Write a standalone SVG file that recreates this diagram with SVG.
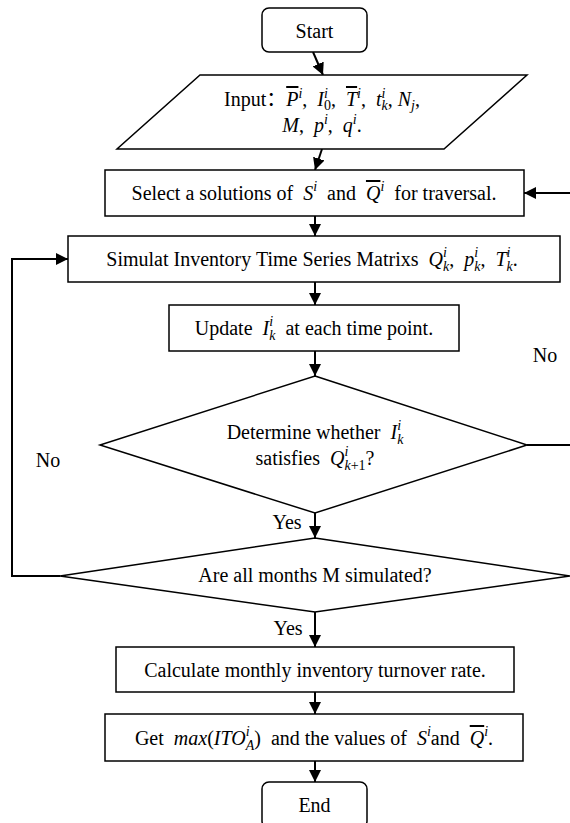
<svg xmlns="http://www.w3.org/2000/svg" width="570" height="823" viewBox="0 0 570 823">
  <defs>
    <style>
      .box { fill: #fff; stroke: #000; stroke-width: 1.5; }
      .ln { fill: none; stroke: #000; stroke-width: 2; }
      text { font-family: "Liberation Serif", "DejaVu Serif", serif; font-size: 20px; fill: #000; white-space: pre; }
      .cjk { font-family: "Noto Sans CJK SC", sans-serif; }
      .m { font-style: italic; }
      .s { font-size: 14px; }
      .ov { text-decoration: overline; }
    </style>
    <marker id="ah" viewBox="0 0 12 12" refX="12" refY="6" markerWidth="12" markerHeight="12" markerUnits="userSpaceOnUse" orient="auto">
      <path d="M0,0 L12,6 L0,12 z" fill="#000"/>
    </marker>
  </defs>

  <rect width="570" height="823" fill="#fff"/>

  <!-- connectors -->
  <g id="connectors">
    <line class="ln" x1="313" y1="52" x2="323" y2="75" marker-end="url(#ah)"/>
    <line class="ln" x1="322" y1="149" x2="315" y2="170" marker-end="url(#ah)"/>
    <line class="ln" x1="315" y1="216" x2="315" y2="236" marker-end="url(#ah)"/>
    <line class="ln" x1="315" y1="282" x2="315" y2="305" marker-end="url(#ah)"/>
    <line class="ln" x1="315" y1="351" x2="315" y2="376" marker-end="url(#ah)"/>
    <line class="ln" x1="315" y1="513" x2="315" y2="538" marker-end="url(#ah)"/>
    <line class="ln" x1="315" y1="612" x2="315" y2="647" marker-end="url(#ah)"/>
    <line class="ln" x1="315" y1="692" x2="315" y2="714" marker-end="url(#ah)"/>
    <line class="ln" x1="315" y1="761" x2="315" y2="782" marker-end="url(#ah)"/>
    <!-- "No" from the month check back to the simulation step -->
    <path class="ln" d="M60,576 H12 V259 H68" marker-end="url(#ah)"/>
    <!-- "No" from the inventory check back to solution selection -->
    <path class="ln" d="M527,445 H572 V193 H524" marker-end="url(#ah)"/>
    <text x="287" y="529" text-anchor="middle">Yes</text>
    <text x="288" y="635" text-anchor="middle">Yes</text>
    <text x="48" y="467" text-anchor="middle">No</text>
    <text x="545" y="362" text-anchor="middle">No</text>
  </g>

  <g id="start">
    <rect class="box" x="262" y="8" width="105" height="44" rx="7"/>
    <text x="314.5" y="38" text-anchor="middle">Start</text>
  </g>

  <g id="input">
    <polygon class="box" points="200,75 527,75 444,149 117,149"/>
    <text x="322" y="106" text-anchor="middle">Input<tspan class="cjk">：</tspan><tspan class="m ov">P</tspan><tspan class="m s" dy="-8">i</tspan><tspan dy="8">,  </tspan><tspan class="m">I</tspan><tspan class="m s" dy="-8">i</tspan><tspan class="s" dx="-3.9" dy="12">0</tspan><tspan dy="-4">,  </tspan><tspan class="m ov">T</tspan><tspan class="m s" dy="-8">i</tspan><tspan dy="8">,  </tspan><tspan class="m">t</tspan><tspan class="m s" dy="-8">i</tspan><tspan class="m s" dx="-3.9" dy="12">k</tspan><tspan dy="-4">, </tspan><tspan class="m">N</tspan><tspan class="m s" dy="4">j</tspan><tspan dy="-4">,</tspan></text>
    <text x="322" y="132" text-anchor="middle"><tspan class="m">M</tspan>,  <tspan class="m">p</tspan><tspan class="m s" dy="-8">i</tspan><tspan dy="8">,  </tspan><tspan class="m">q</tspan><tspan class="m s" dy="-8">i</tspan><tspan dy="8">.</tspan></text>
  </g>

  <g id="select">
    <rect class="box" x="105" y="170" width="419" height="46"/>
    <text x="314" y="200" text-anchor="middle">Select a solutions of  <tspan class="m">S</tspan><tspan class="m s" dy="-9">i</tspan><tspan dy="9">  and  </tspan><tspan class="m ov">Q</tspan><tspan class="m s" dy="-9">i</tspan><tspan dy="9">  for traversal.</tspan></text>
  </g>

  <g id="simulate">
    <rect class="box" x="68" y="236" width="492" height="46"/>
    <text x="312" y="266" text-anchor="middle">Simulat Inventory Time Series Matrixs  <tspan class="m">Q</tspan><tspan class="m s" dy="-9">i</tspan><tspan class="m s" dx="-3.9" dy="14">k</tspan><tspan dy="-5">,  </tspan><tspan class="m">p</tspan><tspan class="m s" dy="-9">i</tspan><tspan class="m s" dx="-3.9" dy="14">k</tspan><tspan dy="-5">,  </tspan><tspan class="m">T</tspan><tspan class="m s" dy="-9">i</tspan><tspan class="m s" dx="-3.9" dy="14">k</tspan><tspan dy="-5">.</tspan></text>
  </g>

  <g id="update">
    <rect class="box" x="169" y="305" width="290" height="46"/>
    <text x="314" y="335" text-anchor="middle">Update  <tspan class="m">I</tspan><tspan class="m s" dy="-9">i</tspan><tspan class="m s" dx="-3.9" dy="14">k</tspan><tspan dy="-5">  at each time point.</tspan></text>
  </g>

  <g id="check-inventory">
    <polygon class="box" points="315,376 527,445 315,513 100,445"/>
    <text x="315" y="439" text-anchor="middle">Determine whether  <tspan class="m">I</tspan><tspan class="m s" dy="-9">i</tspan><tspan class="m s" dx="-3.9" dy="14">k</tspan></text>
    <text x="315" y="465" text-anchor="middle">satisfies  <tspan class="m">Q</tspan><tspan class="m s" dy="-9">i</tspan><tspan class="s" dx="-3.9" dy="14"><tspan class="m">k</tspan>+1</tspan><tspan dy="-5">?</tspan></text>
  </g>

  <g id="check-months">
    <polygon class="box" points="315,538 570,576 315,612 60,576"/>
    <text x="315" y="582" text-anchor="middle">Are all months M simulated?</text>
  </g>

  <g id="calculate">
    <rect class="box" x="116" y="647" width="398" height="45"/>
    <text x="315" y="677" text-anchor="middle">Calculate monthly inventory turnover rate.</text>
  </g>

  <g id="result">
    <rect class="box" x="105" y="714" width="418" height="47"/>
    <text x="314" y="745" text-anchor="middle">Get  <tspan class="m">max</tspan>(<tspan class="m">ITO</tspan><tspan class="m s" dy="-9">i</tspan><tspan class="m s" dx="-3.9" dy="14">A</tspan><tspan dy="-5">)  and the values of  </tspan><tspan class="m">S</tspan><tspan class="m s" dy="-9">i</tspan><tspan dy="9">and  </tspan><tspan class="m ov">Q</tspan><tspan class="m s" dy="-9">i</tspan><tspan dy="9">.</tspan></text>
  </g>

  <g id="end">
    <rect class="box" x="262" y="782" width="105" height="46" rx="7"/>
    <text x="314.5" y="812" text-anchor="middle">End</text>
  </g>
</svg>
